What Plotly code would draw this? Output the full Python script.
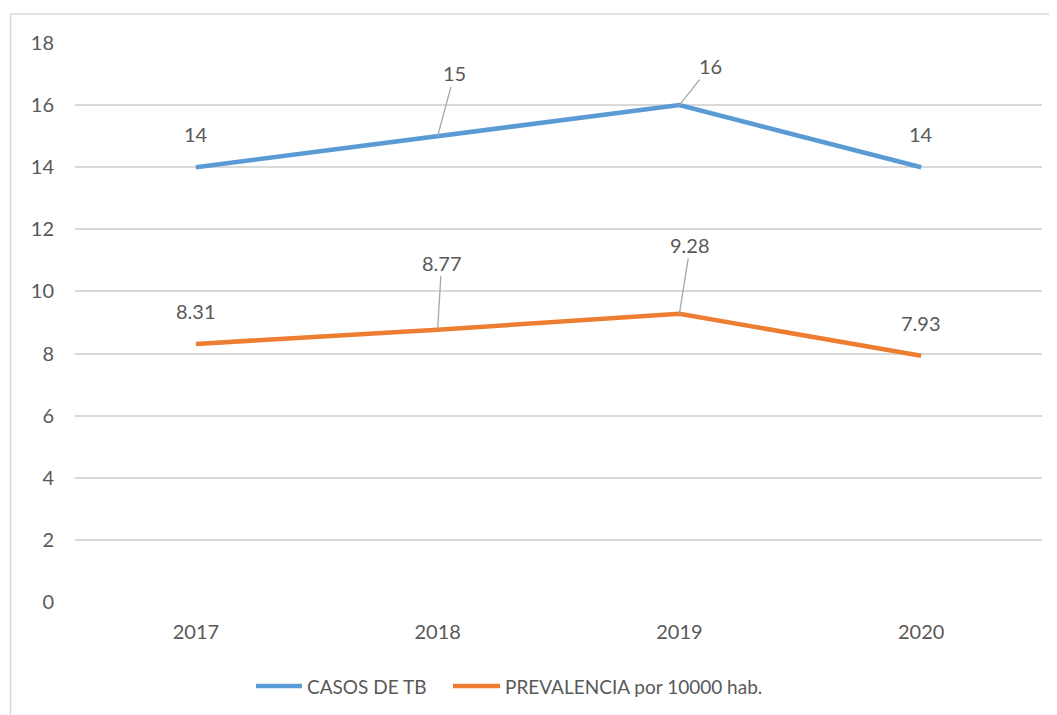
import plotly.graph_objects as go

years = ["2017", "2018", "2019", "2020"]
casos = [14, 15, 16, 14]
prevalencia = [8.31, 8.77, 9.28, 7.93]
casos_labels = ["14", "15", "16", "14"]
prev_labels = ["8.31", "8.77", "9.28", "7.93"]
series_names = ["CASOS DE TB", "PREVALENCIA por 10000 hab."]

BLUE = "#5B9BD5"
ORANGE = "#ED7D31"
TXT = "#595959"
FONT = "Lato"

# page offset (browser body margin 8px) -> figure coords
OFF = 8
L, T, R, B = 67, 35, 15, 113
W, H = 1049, 707
PW, PH = W - L - R, H - T - B


def px_x(page_x):
    return (page_x - OFF - L) / PW


def px_y(page_y):
    return (T + PH - (page_y - OFF)) / PH


fig = go.Figure()
fig.add_trace(go.Scatter(x=years, y=casos, mode="lines", name=series_names[0],
                         line=dict(color=BLUE, width=4.5), cliponaxis=False,
                         showlegend=False))
fig.add_trace(go.Scatter(x=years, y=prevalencia, mode="lines", name=series_names[1],
                         line=dict(color=ORANGE, width=4.5), cliponaxis=False,
                         showlegend=False))

# label offsets (pixels): None -> plain label above point
casos_off = [None, (17, -63), (31, -39), None]
prev_off = [None, (4, -67), (11, -69), None]

annotations = []
for vals, labs, offs in ((casos, casos_labels, casos_off), (prevalencia, prev_labels, prev_off)):
    for i, (v, lab, off) in enumerate(zip(vals, labs, offs)):
        if off is None:
            annotations.append(dict(xref="x", yref="y", x=i, y=v, text=lab, showarrow=False,
                                    yshift=33, font=dict(family=FONT, size=20, color=TXT)))
        else:
            annotations.append(dict(xref="x", yref="y", x=i, y=v, text=lab, showarrow=True,
                                    axref="pixel", ayref="pixel",
                                    ax=off[0], ay=off[1], arrowhead=0, arrowwidth=1.3,
                                    arrowcolor="#A6A6A6", standoff=0,
                                    font=dict(family=FONT, size=20, color=TXT)))

# manual legend (line samples + text)
leg_y = px_y(686)
legend_items = [(BLUE, 256, 302, 305, series_names[0]),
                (ORANGE, 453, 500, 503, series_names[1])]
shapes = [dict(type="rect", xref="paper", yref="paper",
               x0=px_x(10.5), x1=1.2, y0=-0.4, y1=px_y(14),
               line=dict(color="#D9D9D9", width=1.5), layer="below")]
for col, x0, x1, tx, name in legend_items:
    shapes.append(dict(type="line", xref="paper", yref="paper",
                       x0=px_x(x0), x1=px_x(x1), y0=leg_y, y1=leg_y,
                       line=dict(color=col, width=4.5)))
    annotations.append(dict(xref="paper", yref="paper", x=px_x(tx), y=leg_y,
                            xanchor="left", yanchor="middle", text=name, showarrow=False,
                            font=dict(family=FONT, size=19, color=TXT)))

fig.update_layout(
    width=W, height=H,
    margin=dict(l=L, r=R, t=T, b=B, autoexpand=False),
    paper_bgcolor="white", plot_bgcolor="white",
    font=dict(family=FONT, size=20, color=TXT),
    showlegend=False,
    xaxis=dict(type="category", range=[-0.5, 3.5], showgrid=False, showline=False,
               zeroline=False, ticks="", ticklabelstandoff=16,
               tickfont=dict(family=FONT, size=20, color=TXT)),
    yaxis=dict(range=[0, 18], dtick=2, tick0=0, showgrid=True, gridcolor="#D9D9D9",
               gridwidth=1.5, zeroline=False, showline=False, ticks="",
               ticklabelstandoff=20,
               tickfont=dict(family=FONT, size=20, color=TXT)),
    shapes=shapes,
)
for a in annotations:
    fig.add_annotation(**a)

fig.write_html("out.html")
